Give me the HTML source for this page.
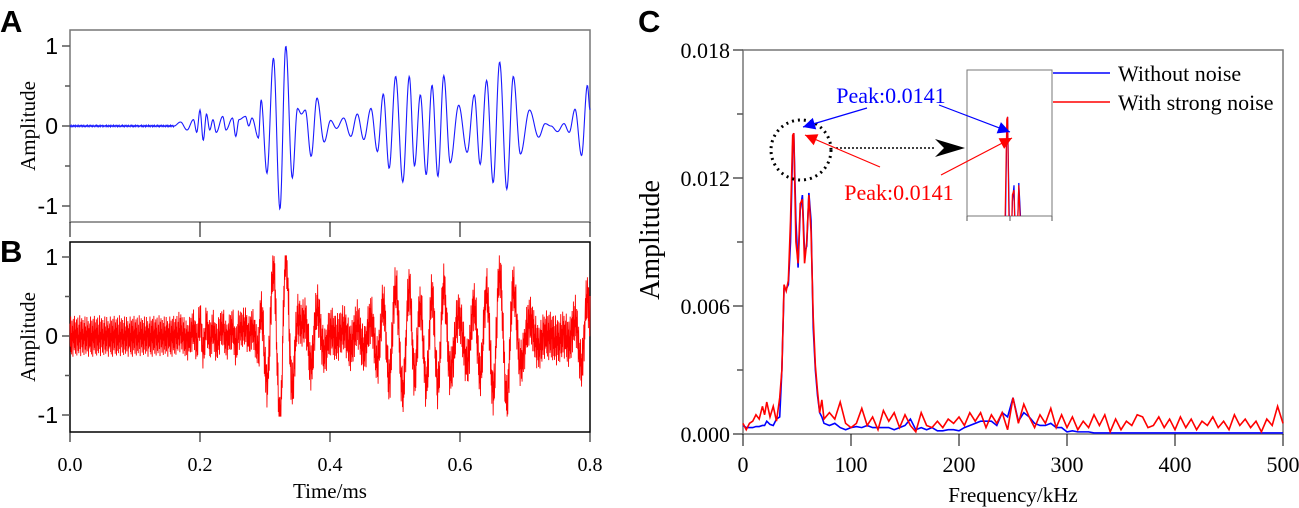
<!DOCTYPE html>
<html><head><meta charset="utf-8"><style>
html,body{margin:0;padding:0;background:#fff}
svg{display:block;font-family:"Liberation Serif",serif}
</style></head><body>
<svg id="fig" width="1299" height="508" viewBox="0 0 1299 508" xmlns="http://www.w3.org/2000/svg">
<g font-family="Liberation Sans, sans-serif" font-weight="bold" font-size="31">
<text x="0" y="32">A</text>
<text x="0" y="262">B</text>
<text x="638" y="32">C</text>
</g>
<g id="axA"></g>
<g id="axB"></g>
<g id="axC"></g>
</svg>
<script>
// ---- Panel A/B data: extrema of the waveform (time in ms, amplitude)
const aTimes=[0,0.16,0.17,0.18,0.19,0.195,0.2,0.205,0.21,0.215,0.22,0.225,0.235,0.24,0.25,0.255,0.26,0.27,0.275,0.28,0.29,0.294,0.303,0.313,0.323,0.332,0.342,0.35,0.356,0.362,0.371,0.38,0.391,0.401,0.41,0.421,0.432,0.442,0.452,0.463,0.473,0.482,0.491,0.501,0.512,0.522,0.53,0.539,0.548,0.557,0.566,0.575,0.585,0.598,0.611,0.622,0.631,0.641,0.651,0.661,0.672,0.682,0.693,0.707,0.721,0.731,0.74,0.75,0.76,0.768,0.777,0.787,0.796,0.8];
const aValues=[0,0,0.05,-0.05,0.08,-0.08,0.2,-0.18,0.15,-0.05,0.08,-0.08,0.12,-0.05,0.1,-0.13,0.08,0.12,0,0.1,-0.15,0.33,-0.59,0.85,-1.04,1.0,-0.65,0.22,0.15,0.2,-0.38,0.35,-0.2,0.07,-0.03,0.1,-0.13,0.15,-0.17,0.22,-0.32,0.4,-0.53,0.62,-0.7,0.62,-0.5,0.39,-0.61,0.51,-0.63,0.63,-0.46,0.26,-0.33,0.39,-0.48,0.57,-0.71,0.8,-0.79,0.62,-0.35,0.2,-0.14,0.03,0.0,-0.07,0.03,-0.08,0.21,-0.37,0.51,0.2];
const bNoise=[0.21,-0.18,0.33,-0.27,0.05,-0.31,0.26,-0.09,0.17,-0.35,0.29,-0.12,0.08,-0.24,0.34,-0.2,0.11,-0.3,0.23,-0.04,0.28,-0.33,0.14,-0.16,0.31,-0.25,0.02,-0.29,0.19,-0.11,0.35,-0.22,0.07,-0.34,0.24,-0.06,0.3,-0.19,0.12,-0.28,0.27,-0.14,0.04,-0.32,0.22,-0.08,0.33,-0.23,0.16,-0.3,0.09,-0.17,0.32,-0.26,0.18,-0.02,0.25,-0.35,0.13,-0.21,0.06];
const aYTicks=["1","0","-1"];
const tTicks=["0.0","0.2","0.4","0.6","0.8"];
// ---- Panel C data (amplitude in units of 1e-3)
const cFreqHead=[0,3,6,9,12,15,18,20,22,25,28,31,34,36,38,40,42,44,46,47,49,51,53,55,57,59,61,63,65,67,69,71,73,75];
const blueHead=[0.4,0.3,0.3,0.3,0.35,0.35,0.4,0.4,0.6,0.45,0.4,0.7,0.8,3,6.8,6.8,7.0,9,13.5,14.1,10,7.8,10.5,11.2,8.5,8.8,11.3,10,5,3.0,1.8,1.0,0.8,0.5];
const redHead=[0.5,0.2,0.5,0.6,0.9,0.7,1.3,0.9,1.5,0.8,1.3,0.6,1.7,3,7,6.7,7.2,10,14.0,14.1,9,8,10.8,11,8,9,11.2,9.5,5.5,3.2,2,1.0,1.6,0.7];
const blueTail=[0.4,0.5,0.3,0.2,0.3,0.35,0.3,0.4,0.3,0.3,0.3,0.3,0.2,0.3,0.4,0.7,0.2,0.3,0.2,0.3,0.15,0.15,0.2,0.2,0.15,0.3,0.4,0.5,0.6,0.6,0.6,0.4,1.0,0.8,1.7,0.6,1.0,0.8,0.5,0.4,0.4,0.5,0.3,0.3,0.1,0.15,0.1,0.1,0.1,0.05,0.05,0.05,0.05,0.05,0.05,0.05,0.05,0.05,0.05,0.05,0.05,0.05,0.05,0.05,0.05,0.05,0.05,0.05,0.05,0.05,0.05,0.05,0.05,0.05,0.05,0.05,0.05,0.05,0.05,0.05,0.05,0.05,0.05,0.05,0.05];
const redTail=[1.0,0.7,1.5,0.5,0.3,0.5,1.2,0.4,0.8,0.2,1.1,0.6,1.0,0.3,0.9,0.4,0.1,1.0,0.4,0.3,0.6,0.3,0.7,0.5,0.8,0.4,1.0,0.6,1.0,0.3,0.9,0.5,1.0,0.2,1.7,0.5,1.4,0.8,0.3,0.9,0.5,1.2,0.3,0.9,0.3,0.8,0.2,0.6,0.3,0.9,0.4,0.9,0.1,0.7,0.2,0.6,0.4,0.9,0.8,0.3,0.4,0.8,0.3,0.7,0.2,0.8,0.3,0.7,0.2,0.6,0.4,0.8,0.3,0.6,0.2,0.9,0.4,0.7,0.3,0.6,0.1,0.7,0.4,1.3,0.5];
const cYTicks=["0.000","0.006","0.012","0.018"];
const cXTicks=["0","100","200","300","400","500"];

const NS="http://www.w3.org/2000/svg";
function mk(parent,tag,attrs,name){const e=document.createElementNS(NS,tag);for(const k in attrs)e.setAttribute(k,attrs[k]);


parent.appendChild(e);return e;}
function txt(parent,x,y,s,size,anchor,name,fill,fam){const a={x:x,y:y,'font-size':size,'text-anchor':anchor||'middle',fill:fill||'#000'};if(fam)a['font-family']=fam;const t=mk(parent,'text',a,name);t.textContent=s;return t;}

function wave(t){for(let i=0;i<aTimes.length-1;i++){if(t<=aTimes[i+1]){const s=(t-aTimes[i])/(aTimes[i+1]-aTimes[i]||1);return aValues[i]+(aValues[i+1]-aValues[i])*(1-Math.cos(Math.PI*s))/2;}}return aValues[aValues.length-1];}

function timePanel(g,top,bottom,y1,y0,color,noisy,pre){
  const x0=70,x1=590;
  const X=t=>x0+(t/0.8)*(x1-x0);
  const Y=v=>y0-(v)*(y0-y1);
  mk(g,'rect',{x:x0,y:top,width:x1-x0,height:bottom-top,fill:'none',stroke:noisy?'#000':'#777','stroke-width':1.5},pre+'plot-frame');
  [1,0.5,0,-0.5,-1].forEach(v=>{mk(g,'line',{x1:x0-(Number.isInteger(v)?8:5),x2:x0,y1:Y(v),y2:Y(v),stroke:'#555','stroke-width':1.5},pre+'y-tick');});
  aYTicks.forEach(s=>{txt(g,x0-12,Y(+s)+8,s,23,'end',pre+'y-tick-label',null,'Liberation Sans, sans-serif');});
  const ya=mk(g,'text',{x:0,y:0,'font-size':21,'text-anchor':'middle',transform:`translate(${x0-35},${(top+bottom)/2}) rotate(-90)`},pre+'y-axis-title');ya.textContent='Amplitude';
  let d='';const N=noisy?1600:900;
  for(let i=0;i<=N;i++){const t=0.8*i/N;let v=wave(t);
    if(noisy){v+=bNoise[i%bNoise.length]*(t<0.29?0.75:0.9);v=Math.max(-1.02,Math.min(1.02,v));}
    else if(t<0.16){v+=bNoise[i%bNoise.length]*0.03;}
    d+=(i?'L':'M')+X(t).toFixed(2)+' '+Y(v).toFixed(2);}
  mk(g,'path',{d:d,fill:'none',stroke:color,'stroke-width':noisy?0.9:1.1},pre+'signal-line');
  return X;
}
const gA=document.getElementById('axA'),gB=document.getElementById('axB');
const XA=timePanel(gA,30,222,46,126,'#1a1aff',false,'a-');
tTicks.forEach(s=>{mk(gA,'line',{x1:XA(+s),x2:XA(+s),y1:222,y2:237,stroke:'#000','stroke-width':1},'a-x-tick');});
const XB=timePanel(gB,242,432,257,336,'#ff0000',true,'b-');
tTicks.forEach(s=>{mk(gB,'line',{x1:XB(+s),x2:XB(+s),y1:432,y2:442,stroke:'#000','stroke-width':1},'b-x-tick');
  txt(gB,XB(+s),471,s,20,'middle','b-x-tick-label');});
txt(gB,330,498,'Time/ms',21,'middle','x-axis-title-time');

// ---- Panel C
const gC=document.getElementById('axC');
const cx0=743,cx1=1283,cy0=434,cy1=50;
const XC=f=>cx0+f/500*(cx1-cx0);
const YC=v=>cy0-v/18*(cy0-cy1);
const cFreq=cFreqHead.slice();for(let f=80;f<=500;f+=5)cFreq.push(f);
const blue=blueHead.concat(blueTail),red=redHead.concat(redTail);
mk(gC,'rect',{x:cx0,y:cy1,width:cx1-cx0,height:cy0-cy1,fill:'none',stroke:'#777','stroke-width':1.5},'c-plot-frame');
for(let v=0;v<=18;v+=3){mk(gC,'line',{x1:cx0-(v%6===0?10:6),x2:cx0,y1:YC(v),y2:YC(v),stroke:'#555','stroke-width':1.5},'c-y-tick');}
cYTicks.forEach(s=>{txt(gC,cx0-13,YC(+s*1000)+8,s,22,'end','c-y-tick-label');});
cXTicks.forEach(s=>{mk(gC,'line',{x1:XC(+s),x2:XC(+s),y1:cy0,y2:cy0+12,stroke:'#000','stroke-width':1},'c-x-tick');
  txt(gC,XC(+s),472,s,22,'middle','c-x-tick-label');});
const yt=mk(gC,'text',{x:0,y:0,'font-size':28,'text-anchor':'middle',transform:`translate(659,240) rotate(-90)`},'c-y-axis-title');yt.textContent='Amplitude';
txt(gC,1013,502,'Frequency/kHz',21,'middle','c-x-axis-title');
function spec(vals,X,Y,color,name,parent,w){let d='';vals.forEach((v,i)=>{d+=(i?'L':'M')+X(cFreq[i]).toFixed(2)+' '+Y(v).toFixed(2);});
  mk(parent,'path',{d:d,fill:'none',stroke:color,'stroke-width':w},name);}
spec(blue,XC,YC,'#0000ff','spectrum-without-noise',gC,1.6);
spec(red,XC,YC,'#ff0000','spectrum-with-noise',gC,1.6);
// inset
const inset=mk(gC,'g',{},'inset');
const defs=mk(gC,'defs',{},'defs');const cp=mk(defs,'clipPath',{id:'clipIn'},'inset-clip');
mk(cp,'rect',{x:967,y:70,width:85,height:146},'inset-clip-rect');
mk(inset,'rect',{x:967,y:70,width:85,height:146,fill:'#fff',stroke:'#777','stroke-width':1},'inset-frame');
[967,1010,1052].forEach(x=>mk(inset,'line',{x1:x,x2:x,y1:216,y2:221,stroke:'#555'},'inset-tick'));
const XI=f=>970+f*0.8, YI=v=>216-(v-9.9)*23.6;
const ig=mk(inset,'g',{'clip-path':'url(#clipIn)'},'inset-plot');
spec(blue,XI,YI,'#0000ff','inset-blue-line',ig,1.2);
spec(red,XI,YI,'#ff0000','inset-red-line',ig,1.2);
// legend
mk(gC,'line',{x1:1053,x2:1110,y1:73,y2:73,stroke:'#0000ff','stroke-width':1.5},'legend-swatch-without-noise');
txt(gC,1118,81,'Without noise',22,'start','legend-label-without-noise');
mk(gC,'line',{x1:1053,x2:1110,y1:102,y2:102,stroke:'#ff0000','stroke-width':1.5},'legend-swatch-with-noise');
txt(gC,1118,110,'With strong noise',22,'start','legend-label-with-noise');
// annotations
mk(gC,'circle',{cx:801,cy:150,r:30,fill:'none',stroke:'#000','stroke-width':3,'stroke-dasharray':'2 4'},'peak-circle');
mk(gC,'line',{x1:836,x2:935,y1:148,y2:148,stroke:'#000','stroke-width':1.5,'stroke-dasharray':'2 2'},'zoom-arrow-line');
mk(gC,'path',{d:'M935 139 L965 148 L935 157 L944 148 Z',fill:'#000'},'zoom-arrow-head');
txt(gC,891,103,'Peak:0.0141',22,'middle','peak-label-blue','#0000ff');
txt(gC,899,200,'Peak:0.0141',22,'middle','peak-label-red','#ff0000');
function arrow(x1,y1,x2,y2,c,name){mk(gC,'line',{x1:x1,y1:y1,x2:x2,y2:y2,stroke:c,'stroke-width':1.2},name);
  const a=Math.atan2(y2-y1,x2-x1),L=12,W=6;
  const p=[[x2,y2],[x2-L*Math.cos(a)+W*Math.sin(a),y2-L*Math.sin(a)-W*Math.cos(a)],[x2-L*Math.cos(a)-W*Math.sin(a),y2-L*Math.sin(a)+W*Math.cos(a)]];
  mk(gC,'polygon',{points:p.map(q=>q.join(',')).join(' '),fill:c},name+'-head');}
arrow(867,108,803,127,'#0000ff','arrow-blue-left');
arrow(939,105,1010,132,'#0000ff','arrow-blue-right');
arrow(880,167,805,135,'#ff0000','arrow-red-left');
arrow(941,175,1012,138,'#ff0000','arrow-red-right');
</script>
</body></html>
